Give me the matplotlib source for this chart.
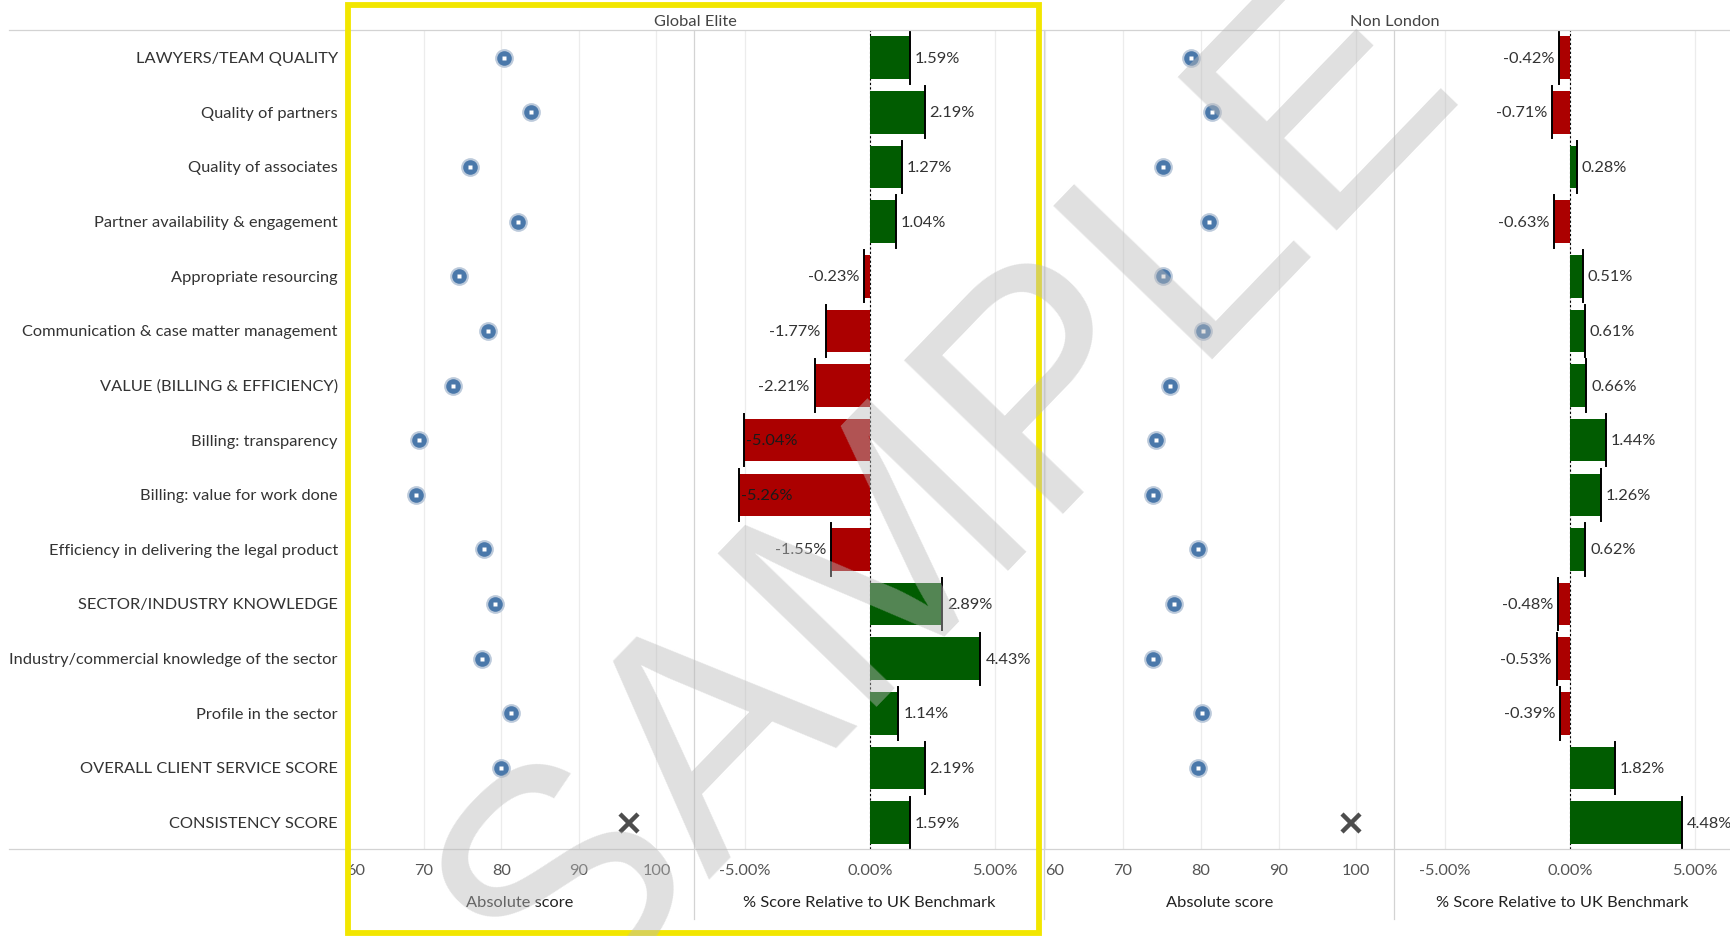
import matplotlib.pyplot as plt
from matplotlib.patches import Rectangle
from matplotlib.lines import Line2D
import numpy as np

plt.rcParams['font.family'] = ['Lato', 'DejaVu Sans']

# Chart data
categories = [
    "LAWYERS/TEAM QUALITY",
    "Quality of partners",
    "Quality of associates",
    "Partner availability & engagement",
    "Appropriate resourcing",
    "Communication & case matter management",
    "VALUE (BILLING & EFFICIENCY)",
    "Billing: transparency",
    "Billing: value for work done",
    "Efficiency in delivering the legal product",
    "SECTOR/INDUSTRY KNOWLEDGE",
    "Industry/commercial knowledge of the sector",
    "Profile in the sector",
    "OVERALL CLIENT SERVICE SCORE",
    "CONSISTENCY SCORE",
]
groups = ["Global Elite", "Non London"]

elite_abs = [80.3, 83.8, 75.9, 82.1, 74.5, 78.3, 73.8, 69.4, 69.0, 77.7, 79.2, 77.5, 81.3, 80.0, 96.4]
elite_pct = [1.59, 2.19, 1.27, 1.04, -0.23, -1.77, -2.21, -5.04, -5.26, -1.55, 2.89, 4.43, 1.14, 2.19, 1.59]

nonlondon_abs = [78.7, 81.4, 75.2, 81.0, 75.2, 80.3, 76.0, 74.2, 73.8, 79.7, 76.6, 73.9, 80.1, 79.7, 99.3]
nonlondon_pct = [-0.42, -0.71, 0.28, -0.63, 0.51, 0.61, 0.66, 1.44, 1.26, 0.62, -0.48, -0.53, -0.39, 1.82, 4.48]

abs_ticks = [60, 70, 80, 90, 100]
pct_ticks = [-5, 0, 5]

W, H = 1731, 937
fig = plt.figure(figsize=(W / 100, H / 100), dpi=100)

GREEN = '#015c01'
RED = '#ab0000'
GRID = '#ececec'
SEP = '#d3d3d3'
TXT = '#333333'
FS = 11.8

top_px, bot_px = 31, 850
cols = [345.6, 694.4, 1044.4, 1394.4, 1731]


def px_axes(x0, x1):
    return fig.add_axes([x0 / W, 1 - bot_px / H, (x1 - x0) / W, (bot_px - top_px) / H])


y = np.arange(len(categories))
ylim = (14.48, -0.505)


def style(ax, xlim, ticks, labels, title):
    ax.set_xlim(*xlim)
    ax.set_ylim(*ylim)
    for s in ax.spines.values():
        s.set_visible(False)
    ax.set_yticks([])
    ax.set_xticks(ticks)
    ax.set_xticklabels(labels, fontsize=FS, color='#555555')
    ax.tick_params(axis='x', length=0, pad=10)
    for t in ticks:
        ax.axvline(t, color=GRID, lw=0.9, zorder=0)
    ax.set_xlabel(title, fontsize=FS, color='#222222', labelpad=13)


def abs_panel(ax, vals):
    style(ax, (59.9, 104.9), abs_ticks, [str(t) for t in abs_ticks], 'Absolute score')
    ax.get_xticklabels()[0].set_horizontalalignment('left')
    xs, ys = vals[:-1], y[:-1]
    ax.plot(xs, ys, 'o', ms=13.5, mfc='#bccadb', mec='none', zorder=3)
    ax.plot(xs, ys, 'o', ms=10.5, mfc='#4a78aa', mec='none', zorder=4)
    ax.plot(xs, ys, 's', ms=2.2, mfc='white', mec='none', zorder=5)
    ax.plot(vals[-1], y[-1], 'x', ms=13, mew=3.2, color='#4d4d4d', zorder=4)


def pct_panel(ax, vals, xlim):
    style(ax, xlim, pct_ticks, ['-5.00%', '0.00%', '5.00%'], '% Score Relative to UK Benchmark')
    ax.axvline(0, color='black', lw=0.8, ls=(0, (2, 2)), zorder=1)
    colors = [GREEN if v >= 0 else RED for v in vals]
    ax.barh(y, vals, height=0.78, color=colors, zorder=2)
    for i, v in enumerate(vals):
        ax.plot([v, v], [i - 0.48, i + 0.48], color='black', lw=1.4, zorder=3)
        lab = f'{v:.2f}%'
        if v >= 0:
            ax.annotate(lab, (v, i), xytext=(3.5, 0), textcoords='offset points',
                        ha='left', va='center', fontsize=FS, color=TXT, zorder=4)
        elif v - xlim[0] < 2.6:
            ax.annotate(lab, (v, i), xytext=(1.5, 0), textcoords='offset points',
                        ha='left', va='center', fontsize=FS, color='#1a1a1a', zorder=4)
        else:
            ax.annotate(lab, (v, i), xytext=(-3.5, 0), textcoords='offset points',
                        ha='right', va='center', fontsize=FS, color=TXT, zorder=4)


ax1 = px_axes(cols[0], cols[1])
ax2 = px_axes(cols[1], cols[2])
ax3 = px_axes(cols[2], cols[3])
ax4 = px_axes(cols[3], cols[4])

abs_panel(ax1, elite_abs)
pct_panel(ax2, elite_pct, (-7.03, 6.99))
abs_panel(ax3, nonlondon_abs)
pct_panel(ax4, nonlondon_pct, (-7.03, 6.46))

# Row labels
for i, c in enumerate(categories):
    fig.text(338 / W, 1 - (59 + i * 54.65) / H, c, ha='right', va='center',
             fontsize=FS, color=TXT)

# Headers
fig.text(695 / W, 1 - 22.5 / H, groups[0], ha='center', va='center', fontsize=FS, color='#444444')
fig.text(1395 / W, 1 - 22.5 / H, groups[1], ha='center', va='center', fontsize=FS, color='#444444')

# Frame lines
for yy in (top_px, bot_px):
    fig.add_artist(Line2D([8.8 / W, 1], [1 - yy / H] * 2, color=SEP, lw=0.9))
for xx in cols[:4]:
    fig.add_artist(Line2D([xx / W] * 2, [1 - top_px / H, 1 - 920 / H], color=SEP, lw=0.9))

# Highlight box
fig.add_artist(Rectangle((348 / W, 1 - 934 / H), (1039 - 348) / W, (934 - 6) / H,
                         fill=False, ec='#f2e600', lw=4.2, zorder=5))

# Watermark (anchored at the baseline start, running up to the right)
fig.text(556 / W, 1 - 1024 / H, 'SAMPLE', rotation=46, rotation_mode='anchor',
         ha='left', va='baseline', fontsize=232, color='#bababa', alpha=0.45,
         family='Liberation Sans', zorder=10)

fig.savefig('out.png', dpi=100)
